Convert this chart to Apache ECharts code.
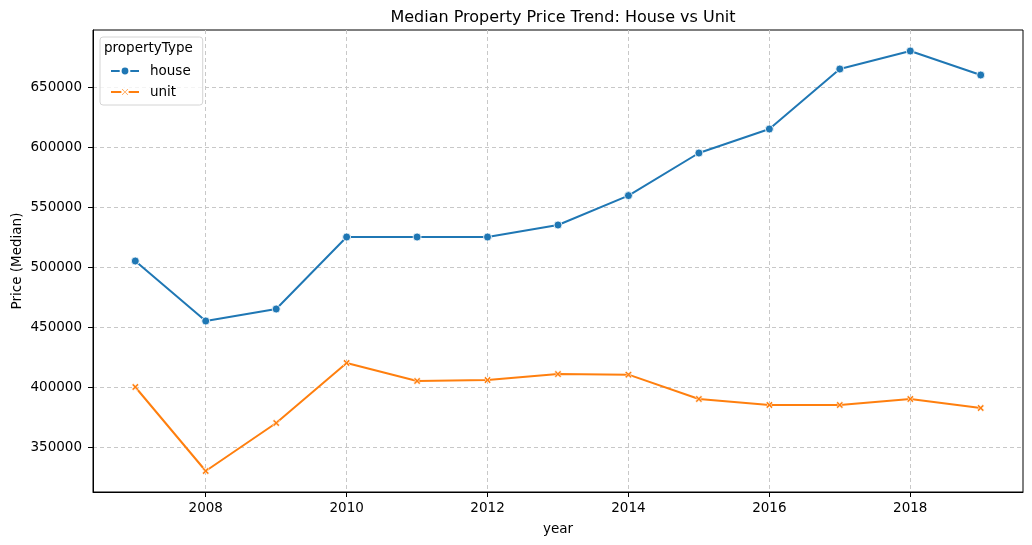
<!DOCTYPE html>
<html>
<head>
<meta charset="UTF-8">
<title>Median Property Price Trend</title>
<script src="https://cdn.jsdelivr.net/npm/echarts@6/dist/echarts.min.js"></script>
<style>
  html, body { margin: 0; padding: 0; background: #fff; }
  #main { width: 1032px; height: 545px; }
</style>
</head>
<body>
<div id="main"></div>
<script>
// data
var years = [2007, 2008, 2009, 2010, 2011, 2012, 2013, 2014, 2015, 2016, 2017, 2018, 2019];
var house = [505000, 455000, 465000, 525000, 525000, 525000, 535000, 559500, 595000, 615000, 665000, 680000, 660000];
var unit = [400000, 330000, 370000, 420000, 405000, 405800, 410800, 410300, 390000, 385000, 385000, 390000, 382500];
var xTicks = [2008, 2010, 2012, 2014, 2016, 2018];
var yTicks = [350000, 400000, 450000, 500000, 550000, 600000, 650000];

var font = 'DejaVu Sans';
var xMark = 'path://M2,0L5,3L8,0L10,2L7,5L10,8L8,10L5,7L2,10L0,8L3,5L0,2Z';

function pairs(vals) {
  return years.map(function (y, i) { return [y, vals[i]]; });
}

var myChart = echarts.init(document.getElementById('main'));
var option = {
  animation: false,
  textStyle: { fontFamily: font },
  title: [{
    text: 'Median Property Price Trend: House vs Unit',
    left: 558,
    top: 5,
    textAlign: 'center',
    textStyle: { fontFamily: font, fontSize: 16, fontWeight: 'normal', color: '#000' }
  }, {
    text: 'propertyType',
    left: 104,
    top: 41,
    padding: 0,
    textStyle: { fontFamily: font, fontSize: 13.5, fontWeight: 'normal', color: '#000' }
  }],
  legend: {
    orient: 'vertical',
    left: 100,
    top: 37,
    padding: [27, 12, 6, 10],
    itemGap: 7,
    itemWidth: 28,
    itemHeight: 11,
    borderColor: '#d4d4d4',
    borderWidth: 1,
    borderRadius: 3,
    backgroundColor: 'rgba(255,255,255,0.8)',
    textStyle: { fontFamily: font, fontSize: 13.5, color: '#000', padding: [0, 0, 0, 6] },
    data: ['house', 'unit']
  },
  grid: {
    left: 93,
    right: 9,
    top: 30,
    bottom: 53,
    outerBoundsMode: 'none',
    containLabel: false,
    show: true,
    borderColor: '#000',
    borderWidth: 1
  },
  xAxis: {
    type: 'value',
    min: 2006.4,
    max: 2019.6,
    name: 'year',
    nameLocation: 'middle',
    nameGap: 30,
    nameMoveOverlap: false,
    nameTextStyle: { fontFamily: font, fontSize: 13.5, color: '#000' },
    axisLine: { show: true, lineStyle: { color: '#000', width: 1 } },
    axisTick: { show: true, length: 5, customValues: xTicks, lineStyle: { color: '#000' } },
    axisLabel: { customValues: xTicks, margin: 9, fontFamily: font, fontSize: 13.5, color: '#000',
      formatter: function (v) { return String(v); } },
    splitLine: { show: true, lineStyle: { type: [4, 3], color: '#c8c8c8', width: 1 } }
  },
  yAxis: {
    type: 'value',
    min: 312500,
    max: 697500,
    name: 'Price (Median)',
    nameLocation: 'middle',
    nameGap: 69,
    nameMoveOverlap: false,
    nameTextStyle: { fontFamily: font, fontSize: 13.5, color: '#000' },
    axisLine: { show: true, lineStyle: { color: '#000', width: 1 } },
    axisTick: { show: true, length: 5, customValues: yTicks, lineStyle: { color: '#000' } },
    axisLabel: { customValues: yTicks, margin: 11, fontFamily: font, fontSize: 13.5, color: '#000',
      formatter: function (v) { return String(v); } },
    splitLine: { show: true, lineStyle: { type: [4, 3], color: '#c8c8c8', width: 1 } }
  },
  series: [{
    name: 'house',
    type: 'line',
    data: pairs(house),
    symbol: 'circle',
    symbolSize: 8,
    lineStyle: { color: '#1f77b4', width: 2 },
    itemStyle: { color: '#1f77b4', borderColor: '#fff', borderWidth: 0.8 }
  }, {
    name: 'unit',
    type: 'line',
    data: pairs(unit),
    symbol: xMark,
    symbolSize: 7,
    lineStyle: { color: '#ff7f0e', width: 2 },
    itemStyle: { color: '#ff7f0e', borderColor: '#fff', borderWidth: 0.6 }
  }]
};
myChart.setOption(option);
</script>
</body>
</html>
